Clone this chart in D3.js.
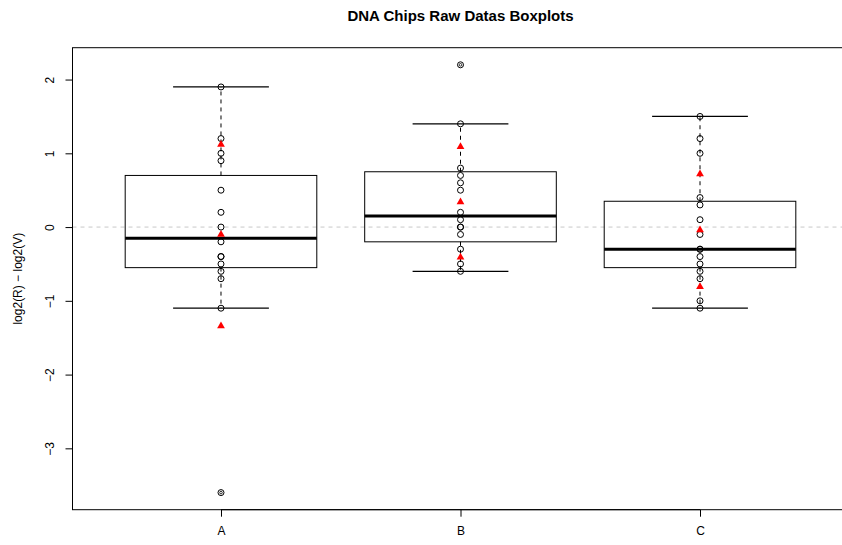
<!DOCTYPE html>
<html>
<head>
<meta charset="utf-8">
<script src="https://cdn.jsdelivr.net/npm/d3@7"></script>
<style>
  body { margin: 0; background: #fff; }
  svg { display: block; font-family: "Liberation Sans", Arial, sans-serif; }
</style>
</head>
<body>
<div id="chart"></div>
<script>
// chips (categories)
const chips = ["A", "B", "C"];

// box statistics
const lowerWhisker = [-1.1, -0.6, -1.1];
const lowerHinge = [-0.55, -0.2, -0.55];
const medians = [-0.15, 0.15, -0.3];
const upperHinge = [0.7, 0.75, 0.35];
const upperWhisker = [1.9, 1.4, 1.5];
const outliers = [[-3.6], [2.2], []];

// raw points (open circles)
const pointsA = [1.9, 1.2, 1.0, 0.9, 0.5, 0.2, 0.0, -0.2, -0.4, -0.4, -0.5, -0.6, -0.7, -1.1];
const pointsB = [1.4, 0.8, 0.7, 0.6, 0.5, 0.2, 0.1, 0.0, 0.0, -0.1, -0.3, -0.5, -0.6];
const pointsC = [1.5, 1.2, 1.0, 0.4, 0.3, 0.1, -0.1, -0.3, -0.3, -0.4, -0.5, -0.6, -0.7, -1.0, -1.1];

// red triangles
const triA = [1.12, -0.1, -1.34];
const triB = [1.09, 0.34, -0.41];
const triC = [0.72, -0.04, -0.81];

const yTicks = [-3, -2, -1, 0, 1, 2];

const W = 842, H = 545;
const margin = {top: 47.7, left: 72.5, bottom: 35.3};
const plotRight = 848.5; // plot region runs past the right edge of the image

const svg = d3.select("#chart").append("svg")
    .attr("width", W)
    .attr("height", H);

// scales (R style: 4% padding)
const x = d3.scaleLinear().domain([0.38, 3.62]).range([margin.left, plotRight]);
const y = d3.scaleLinear().domain([-3.832, 2.432]).range([H - margin.bottom, margin.top]);

// zero reference line
svg.append("line")
    .attr("x1", x(0.38)).attr("x2", x(3.62))
    .attr("y1", y(0)).attr("y2", y(0))
    .attr("stroke", "#c8c8c8")
    .attr("stroke-dasharray", "4,4");

const boxW = 0.8, capW = 0.4;

const groups = chips.map((c, i) => ({
    name: c, pos: i + 1,
    lw: lowerWhisker[i], q1: lowerHinge[i], med: medians[i], q3: upperHinge[i], uw: upperWhisker[i],
    out: outliers[i],
    pts: [pointsA, pointsB, pointsC][i],
    tri: [triA, triB, triC][i]
}));

const g = svg.selectAll(".box").data(groups).enter().append("g").attr("class", "box");

// whiskers (dashed)
g.append("line")
    .attr("x1", d => x(d.pos)).attr("x2", d => x(d.pos))
    .attr("y1", d => y(d.q3)).attr("y2", d => y(d.uw))
    .attr("stroke", "#000").attr("stroke-dasharray", "4,4");
g.append("line")
    .attr("x1", d => x(d.pos)).attr("x2", d => x(d.pos))
    .attr("y1", d => y(d.q1)).attr("y2", d => y(d.lw))
    .attr("stroke", "#000").attr("stroke-dasharray", "4,4");

// staples
["uw", "lw"].forEach(k => {
    g.append("line")
        .attr("x1", d => x(d.pos - capW / 2)).attr("x2", d => x(d.pos + capW / 2))
        .attr("y1", d => y(d[k])).attr("y2", d => y(d[k]))
        .attr("stroke", "#000").attr("stroke-width", 1.3);
});

// boxes
g.append("rect")
    .attr("x", d => x(d.pos - boxW / 2))
    .attr("width", d => x(d.pos + boxW / 2) - x(d.pos - boxW / 2))
    .attr("y", d => y(d.q3))
    .attr("height", d => y(d.q1) - y(d.q3))
    .attr("fill", "none").attr("stroke", "#000");

// medians
g.append("line")
    .attr("x1", d => x(d.pos - boxW / 2)).attr("x2", d => x(d.pos + boxW / 2))
    .attr("y1", d => y(d.med)).attr("y2", d => y(d.med))
    .attr("stroke", "#000").attr("stroke-width", 3);

// outliers, points, triangles
g.each(function(d) {
    const sel = d3.select(this);
    d.out.forEach(v => {
        sel.append("circle")
            .attr("cx", x(d.pos)).attr("cy", y(v)).attr("r", 3)
            .attr("fill", "none").attr("stroke", "#000");
        sel.append("circle")
            .attr("cx", x(d.pos)).attr("cy", y(v)).attr("r", 1.3)
            .attr("fill", "none").attr("stroke", "#000").attr("stroke-width", 0.8);
    });
    sel.selectAll(".pt").data(d.pts).enter().append("circle")
        .attr("class", "pt")
        .attr("cx", x(d.pos)).attr("cy", v => y(v)).attr("r", 3)
        .attr("fill", "none").attr("stroke", "#000");
    sel.selectAll(".tri").data(d.tri).enter().append("path")
        .attr("class", "tri")
        .attr("d", d3.symbol(d3.symbolTriangle, 26))
        .attr("transform", v => `translate(${x(d.pos)},${y(v)})`)
        .attr("fill", "#ff0000");
});

// frame
svg.append("rect")
    .attr("x", margin.left).attr("y", margin.top)
    .attr("width", plotRight - margin.left)
    .attr("height", y(-3.832) - y(2.432))
    .attr("fill", "none").attr("stroke", "#000");

// y axis
const yAxis = svg.append("g")
    .attr("transform", `translate(${margin.left},0)`)
    .call(d3.axisLeft(y).tickValues(yTicks).tickSize(7).tickFormat(d => d < 0 ? "\u2212" + Math.abs(d) : d));
yAxis.select(".domain").attr("stroke", "none");
yAxis.selectAll(".tick text")
    .attr("font-size", 12).attr("fill", "#000")
    .attr("transform", "rotate(-90)")
    .attr("x", 0).attr("y", -23).attr("dy", "0.35em")
    .attr("text-anchor", "middle")
    .attr("font-family", "Liberation Sans, Arial, sans-serif");

// x axis
const xAxis = svg.append("g")
    .attr("transform", `translate(0,${H - margin.bottom})`)
    .call(d3.axisBottom(x).tickValues([1, 2, 3]).tickSize(7).tickFormat((d, i) => chips[i]));
xAxis.select(".domain").attr("stroke", "#000").attr("d", `M${x(1)},0H${x(3)}`);
xAxis.selectAll(".tick text")
    .attr("font-size", 12).attr("fill", "#000").attr("y", 17).attr("dy", "0.71em")
    .attr("font-family", "Liberation Sans, Arial, sans-serif");

// labels
svg.append("text")
    .attr("x", (margin.left + plotRight) / 2).attr("y", 21)
    .attr("text-anchor", "middle")
    .attr("font-weight", "bold").attr("font-size", 15)
    .text("DNA Chips Raw Datas Boxplots");

svg.append("text")
    .attr("transform", `translate(22,${(margin.top + H - margin.bottom) / 2}) rotate(-90)`)
    .attr("text-anchor", "middle")
    .attr("font-size", 12)
    .text("log2(R) \u2212 log2(V)");
</script>
</body>
</html>
